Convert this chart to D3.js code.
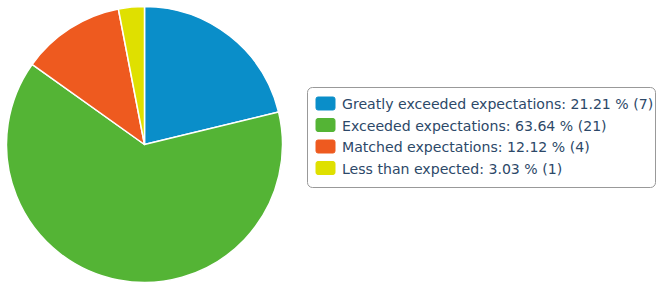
<!DOCTYPE html>
<html>
<head>
<meta charset="utf-8">
<script src="https://cdn.jsdelivr.net/npm/d3@7"></script>
<style>
  body { margin: 0; background: #fff; }
  svg { display: block; }
</style>
</head>
<body>
<div id="chart"></div>
<script>
var svgWidth = 657;
var svgHeight = 282;

// data
var categories = ["Greatly exceeded expectations", "Exceeded expectations", "Matched expectations", "Less than expected"];
var counts = [7, 21, 4, 1];
var colors = ["#0a8ec9", "#54b435", "#ee5a1f", "#dfe000"];

var total = d3.sum(counts);
var rows = categories.map(function(c, i) {
  return { name: c, count: counts[i], color: colors[i] };
});

var svg = d3.select("#chart")
  .append("svg")
  .attr("width", svgWidth)
  .attr("height", svgHeight);

// Pie
var radius = 138;
var pieGroup = svg.append("g")
  .attr("transform", "translate(144.5, 144.5)");

var pie = d3.pie()
  .value(function(d) { return d.count; })
  .sort(null);

var arc = d3.arc()
  .innerRadius(0)
  .outerRadius(radius);

pieGroup.selectAll("path")
  .data(pie(rows))
  .enter()
  .append("path")
  .attr("d", arc)
  .attr("fill", function(d) { return d.data.color; })
  .attr("stroke", "#fff")
  .attr("stroke-width", 1.5)
  .attr("stroke-linejoin", "round");

// Legend
var legend = svg.append("g")
  .attr("transform", "translate(307.5, 87.5)");

legend.append("rect")
  .attr("width", 348)
  .attr("height", 100)
  .attr("rx", 5)
  .attr("fill", "#fff")
  .attr("stroke", "#999");

var rowStep = 21.5;
var items = legend.selectAll("g.item")
  .data(rows)
  .enter()
  .append("g")
  .attr("class", "item")
  .attr("transform", function(d, i) { return "translate(0," + (i * rowStep) + ")"; });

items.append("rect")
  .attr("x", 8.5)
  .attr("y", 9.5)
  .attr("width", 19)
  .attr("height", 13)
  .attr("rx", 2)
  .attr("fill", function(d) { return d.color; })
  .attr("stroke", function(d) { return d.color; });

items.append("text")
  .attr("x", 34.5)
  .attr("y", 21.5)
  .attr("font-family", "DejaVu Sans")
  .attr("font-size", "14.1px")
  .attr("fill", "#2c4868")
  .text(function(d) {
    return d.name + ": " + (d.count / total * 100).toFixed(2) + " % (" + d.count + ")";
  });
</script>
</body>
</html>
